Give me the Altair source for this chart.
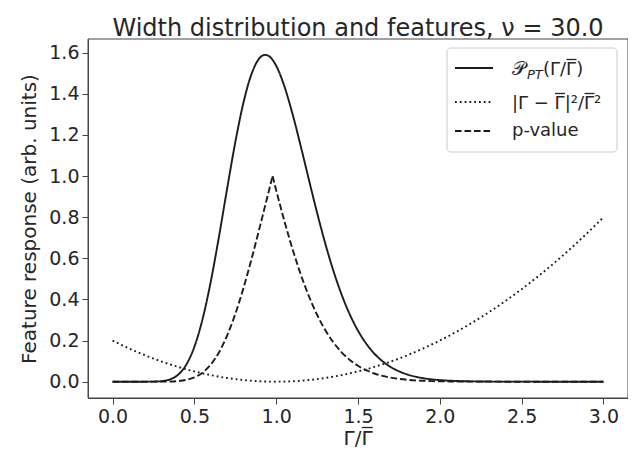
import altair as alt
import pandas as pd

# ---- data ----
series_names = ["pt", "dev", "pval"]

pt_x = [0.0, 0.05, 0.1, 0.15, 0.2, 0.25, 0.3, 0.35, 0.4, 0.45, 0.5, 0.55, 0.6, 0.65, 0.7, 0.75,
        0.8, 0.85, 0.9, 0.93, 0.95, 1.0, 1.05, 1.1, 1.15, 1.2, 1.25, 1.3, 1.35, 1.4, 1.45, 1.5,
        1.55, 1.6, 1.65, 1.7, 1.75, 1.8, 1.85, 1.9, 1.95, 2.0, 2.1, 2.2, 2.3, 2.4, 2.5, 2.6, 2.8, 3.0]
pt_y = [0, 0, 0, 0.000002, 0.00004, 0.00044, 0.0027, 0.0109, 0.0334, 0.0821, 0.1696, 0.3042,
        0.4858, 0.7037, 0.9381, 1.1642, 1.3575, 1.4982, 1.5755, 1.5898, 1.5864, 1.5367, 1.4372,
        1.3020, 1.1460, 0.9823, 0.8217, 0.6721, 0.5385, 0.4233, 0.3268, 0.2481, 0.1855, 0.1366,
        0.0993, 0.0712, 0.0505, 0.0354, 0.0245, 0.0168, 0.0114, 0.0077, 0.0034, 0.0015, 0.0006,
        0.0002, 0.0001, 0, 0, 0]

dev_x = [0.0, 0.1, 0.2, 0.3, 0.4, 0.5, 0.6, 0.7, 0.8, 0.9, 1.0, 1.1, 1.2, 1.3, 1.4, 1.5, 1.6,
         1.7, 1.8, 1.9, 2.0, 2.1, 2.2, 2.3, 2.4, 2.5, 2.6, 2.7, 2.8, 2.9, 3.0]
dev_y = [0.2, 0.162, 0.128, 0.098, 0.072, 0.05, 0.032, 0.018, 0.008, 0.002, 0.0, 0.002, 0.008,
         0.018, 0.032, 0.05, 0.072, 0.098, 0.128, 0.162, 0.2, 0.242, 0.288, 0.338, 0.392, 0.45,
         0.512, 0.578, 0.648, 0.722, 0.8]

pvl_x = [0.0, 0.1, 0.2, 0.25, 0.3, 0.35, 0.4, 0.45, 0.5, 0.55, 0.6, 0.65, 0.7, 0.75, 0.8, 0.85,
         0.9, 0.93, 0.95, 0.97, 0.978]
pvl_y = [0, 0, 0, 0.00002, 0.0002, 0.0008, 0.0030, 0.0086, 0.0208, 0.0440, 0.0829, 0.1418,
         0.2240, 0.3291, 0.4550, 0.5988, 0.7530, 0.8480, 0.9112, 0.975, 1.0]

pvr_x = [0.978, 0.99, 1.0, 1.02, 1.05, 1.1, 1.15, 1.2, 1.25, 1.3, 1.35, 1.4, 1.45, 1.5, 1.55,
         1.6, 1.65, 1.7, 1.75, 1.8, 1.85, 1.9, 1.95, 2.0, 2.1, 2.2, 2.3, 2.4, 2.6, 2.8, 3.0]
pvr_y = [1.0, 0.9624, 0.9314, 0.8708, 0.7816, 0.6448, 0.5220, 0.4156, 0.3255, 0.2510, 0.1907,
         0.1429, 0.1057, 0.0772, 0.0557, 0.0397, 0.0280, 0.0196, 0.0136, 0.0093, 0.0063, 0.0043,
         0.0029, 0.0019, 0.0008, 0.0003, 0.0001, 0, 0, 0, 0]

x_ticks = [0.0, 0.5, 1.0, 1.5, 2.0, 2.5, 3.0]
y_ticks = [0.0, 0.2, 0.4, 0.6, 0.8, 1.0, 1.2, 1.4, 1.6]

title_text = "Width distribution and features, ν = 30.0"
x_title = "Γ/Γ"          # second Γ carries an overline
y_title = "Feature response (arb. units)"
leg_pt = "(Γ/Γ)"
leg_dev = "|Γ − Γ|²/Γ²"
leg_pv = "p-value"

# ---- build table ----
def frame(xs, ys, series, part):
    return pd.DataFrame({"x": xs, "y": ys, "series": series, "part": part})

df = pd.concat([
    frame(pt_x, pt_y, "pt", "pt"),
    frame(dev_x, dev_y, "dev", "dev"),
    frame(pvl_x, pvl_y, "pval", "pval_l"),
    frame(pvr_x, pvr_y, "pval", "pval_r"),
], ignore_index=True)

LINE = "#1c1c1c"
TXT = "#262626"
SPINE = "#444444"
FONT = "DejaVu Sans"
dashes = [[1, 0], [1.8, 3.0], [6.6, 2.9]]

lines = alt.Chart(df).mark_line(interpolate="monotone", strokeWidth=1.9, color=LINE,
                                strokeCap="butt").encode(
    x=alt.X("x:Q", scale=alt.Scale(domain=[-0.15, 3.15], nice=False, zero=False),
            axis=alt.Axis(values=x_ticks, format=".1f", title="")),
    y=alt.Y("y:Q", scale=alt.Scale(domain=[-0.0794, 1.667], nice=False, zero=False),
            axis=alt.Axis(values=y_ticks, format=".1f", title=y_title, titlePadding=9)),
    strokeDash=alt.StrokeDash("series:N", scale=alt.Scale(domain=series_names, range=dashes),
                              legend=None),
    detail="part:N",
)

one = pd.DataFrame({"k": [0]})

frame_box = alt.Chart(one).mark_rect(fillOpacity=0, stroke=SPINE, strokeWidth=1).encode(
    x=alt.value(0), x2=alt.value(540), y=alt.value(0), y2=alt.value(359))

legend_box = alt.Chart(one).mark_rect(fill="white", fillOpacity=0.8, stroke="#cccccc",
                                      strokeWidth=1, cornerRadius=4).encode(
    x=alt.value(359), x2=alt.value(529), y=alt.value(9), y2=alt.value(113))

def sample(ypos, dash):
    return alt.Chart(one).mark_rule(strokeDash=dash, strokeWidth=1.9, color=LINE,
                                    strokeCap="butt").encode(
        x=alt.value(367), x2=alt.value(405), y=alt.value(ypos))

def label(txt, xpos, ypos, size=18, style="normal", baseline="alphabetic"):
    return alt.Chart(one).mark_text(text=txt, align="left", baseline=baseline, fontSize=size,
                                    font=FONT, fontStyle=style, color=TXT).encode(
        x=alt.value(xpos), y=alt.value(ypos))

def overline(x1, x2, ypos):
    return alt.Chart(one).mark_rule(strokeWidth=1.3, color=TXT).encode(
        x=alt.value(x1), x2=alt.value(x2), y=alt.value(ypos))

legend = [
    legend_box,
    sample(29, dashes[0]), sample(63, dashes[1]), sample(92, dashes[2]),
    label("𝒫", 424, 35.5, size=19),
    label("PT", 439, 39.5, size=13, style="italic"),
    label(leg_pt, 455, 35.5),
    overline(478.5, 488.5, 20.5),
    label(leg_dev, 424, 69.5),
    overline(467, 477, 54.5),
    overline(496.5, 506.5, 54.5),
    label(leg_pv, 424, 92, baseline="middle"),
]

xtitle = [
    label(x_title, 255.5, 406, size=20),
    overline(273.8, 284.8, 388.5),
]

chart = alt.layer(lines, frame_box, *legend, *xtitle).properties(
    width=540, height=359,
    title=alt.TitleParams(title_text, fontSize=24, font=FONT, fontWeight="normal",
                          color=TXT, anchor="middle", offset=0, dy=2),
    autosize=alt.AutoSizeParams(type="none"),
    padding={"left": 80, "top": 31, "right": 0, "bottom": 51},
).configure_view(stroke=None).configure_axis(
    labelFont=FONT, titleFont=FONT, labelFontSize=19, titleFontSize=20,
    titleFontWeight="normal", labelColor=TXT, titleColor=TXT, tickColor=SPINE,
    domainColor=SPINE, tickSize=6, labelPadding=3, grid=False,
)

chart.save("out.html", embed_options={"renderer": "svg", "actions": False})
